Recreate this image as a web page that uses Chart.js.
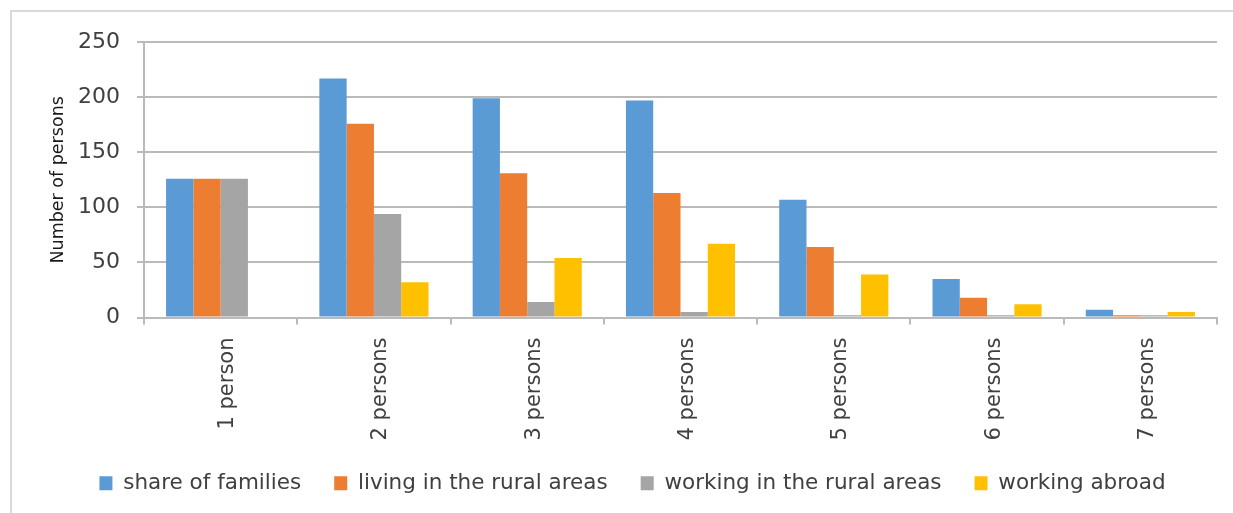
<!DOCTYPE html>
<html>
<head>
<meta charset="utf-8">
<script src="https://cdn.jsdelivr.net/npm/chart.js@4"></script>
<style>
  html, body { margin: 0; background: #fff; overflow: hidden; }
  .frame {
    position: absolute; left: 10px; top: 10px; width: 1245px; height: 518px;
    border-left: 2px solid #d9d9d9; border-top: 2px solid #d9d9d9;
  }
  canvas { display: block; }
</style>
</head>
<body>
<div class="frame"><canvas id="familyChart" width="1245" height="518"></canvas></div>
<script>
// Family size groups
const categories = ['1 person', '2 persons', '3 persons', '4 persons', '5 persons', '6 persons', '7 persons'];
const shareOfFamilies = [126, 217, 199, 197, 107, 35, 7];
const livingRural = [126, 176, 131, 113, 64, 18, 2];
const workingRural = [126, 94, 14, 5, 2, 2, 2];
const workingAbroad = [0, 32, 54, 67, 39, 12, 5];
const yTicks = [0, 50, 100, 150, 200, 250];

const font = 'DejaVu Sans';
const gridGray = '#bababa';

const ctx = document.getElementById('familyChart');

new Chart(ctx, {
  type: 'bar',
  data: {
    labels: categories,
    datasets: [
      { label: 'share of families', data: shareOfFamilies, backgroundColor: '#5b9bd5' },
      { label: 'living in the rural areas', data: livingRural, backgroundColor: '#ed7d31' },
      { label: 'working in the rural areas', data: workingRural, backgroundColor: '#a5a5a5' },
      { label: 'working abroad', data: workingAbroad, backgroundColor: '#ffc000' }
    ]
  },
  options: {
    responsive: false,
    animation: false,
    datasets: {
      bar: {
        categoryPercentage: 0.712,
        barPercentage: 1
      }
    },
    layout: {
      padding: { top: 27, right: 40, bottom: 26, left: 36 }
    },
    plugins: {
      tooltip: { enabled: false },
      legend: {
        position: 'bottom',
        labels: {
          boxWidth: 13,
          boxHeight: 14,
          padding: 33,
          color: '#404040',
          font: { family: font, size: 21.5 }
        }
      }
    },
    scales: {
      x: {
        afterFit: function(scale) {
          scale.height = 122;
        },
        border: { color: gridGray, width: 2 },
        grid: {
          offset: true,
          drawOnChartArea: false,
          tickLength: 7,
          color: gridGray,
          lineWidth: 2
        },
        ticks: {
          minRotation: 90,
          maxRotation: 90,
          autoSkip: false,
          padding: 13,
          labelOffset: 7,
          color: '#404040',
          font: { family: font, size: 21 }
        }
      },
      y: {
        min: 0,
        max: 250,
        afterFit: function(scale) {
          scale.width = 96;
        },
        afterBuildTicks: function(scale) {
          scale.ticks = yTicks.map(v => ({ value: v }));
        },
        border: { color: gridGray, width: 2 },
        grid: {
          color: gridGray,
          lineWidth: 2,
          tickLength: 7
        },
        ticks: {
          padding: 17,
          color: '#404040',
          font: { family: font, size: 22 }
        },
        title: {
          display: true,
          text: 'Number of persons',
          color: '#1a1a1a',
          padding: { top: 0, bottom: 0 },
          font: { family: font, size: 17.5 }
        }
      }
    }
  }
});
</script>
</body>
</html>
